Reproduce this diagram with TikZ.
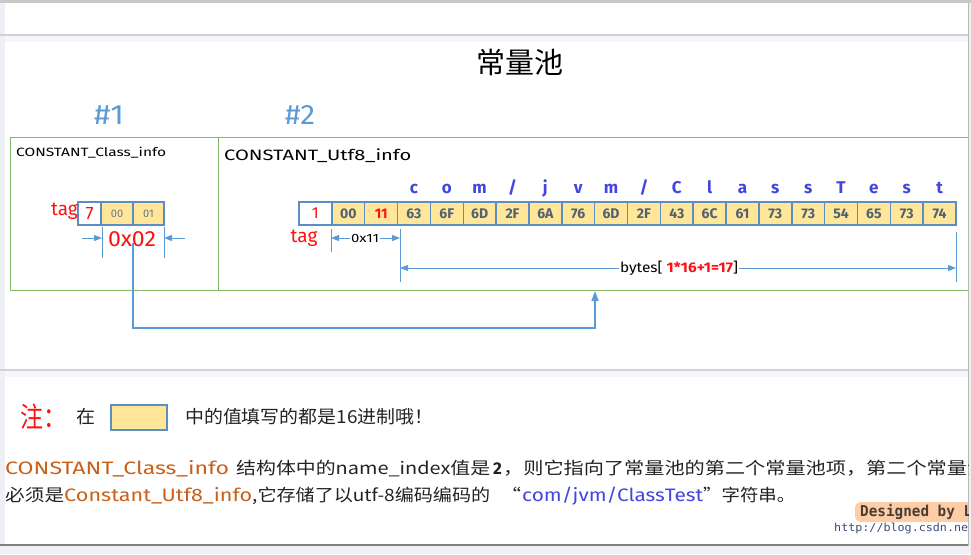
\documentclass[tikz,border=0pt]{standalone}
\usepackage{fontspec}
\usepackage{graphicx}
\setmainfont{Noto Sans CJK SC}
\newfontfamily\lat{Fira Sans}
\newfontfamily\monof{DejaVu Sans Mono}
\usetikzlibrary{arrows.meta}
\definecolor{cellb}{HTML}{5B8EC2}
\definecolor{cellf}{HTML}{FFE699}
\definecolor{grn}{HTML}{82B866}
\definecolor{arrb}{HTML}{5B9BD5}
\definecolor{org}{HTML}{C8601A}
\definecolor{lblue}{HTML}{4545DD}
\definecolor{tred}{HTML}{FF1010}
\definecolor{celltxt}{HTML}{4F6172}
\definecolor{ink}{HTML}{222222}
\definecolor{glow}{HTML}{FCCDA6}
\definecolor{dby}{HTML}{4A3C30}
\definecolor{url}{HTML}{3A4A7A}
\definecolor{hashb}{HTML}{5B9BD5}
\definecolor{fr1}{HTML}{C8C8C8}
\definecolor{fr2}{HTML}{EEF0F5}
\definecolor{fr3}{HTML}{D2D2D2}
\definecolor{fr4}{HTML}{F4F6FB}
\definecolor{fr5}{HTML}{7F7F7F}
\definecolor{fr6}{HTML}{B8B8B8}
\definecolor{fr7}{HTML}{F0F0F0}
\newcommand\fitw[2]{\resizebox{#1}{\height}{#2}}
\newcommand\fs[1]{\fontsize{#1}{#1}\selectfont}
\begin{document}
\begin{tikzpicture}[x=1pt,y=-1pt,
  cell/.style={draw=cellb,line width=1.5pt,fill=cellf,inner sep=0pt,minimum height=23pt,font=\lat\bfseries\fs{14},text=celltxt},
  txt/.style={inner sep=0pt,anchor=base west},
  ar/.style={draw=arrb,line width=1pt},
  tipr/.style={-{Triangle[length=8pt,width=6pt]}},
  conn/.style={draw=arrb,line width=1.5pt,-{Triangle[length=10pt,width=7pt]}},
  gbox/.style={draw=grn,line width=1.2pt,inner sep=0pt},
]
\useasboundingbox (0,0) rectangle (971,554);
% page frame
\fill[fr1] (0,0) rectangle (971,3);
\fill[fr2] (0,3) rectangle (5,554);
\fill[fr3] (0,34) rectangle (968,36);
\fill[fr4] (5,36) rectangle (968,42);
\fill[fr3] (0,369) rectangle (968,371);
\fill[fr4] (5,371) rectangle (968,377);
\fill[fr2] (0,546) rectangle (971,554);
\fill[fr5] (0,544) rectangle (971,546);
\fill[fr7] (969,3) rectangle (971,546);
\draw[fr6,line width=1.5pt] (968.5,3) -- (968.5,546);

\begin{scope}
\clip (0,0) rectangle (968,554);
% title
\node[inner sep=0pt] (title) at (520,62) {\fs{29}常量池};
\node[inner sep=0pt,text=hashb] (h1) at (109,115) {\fitw{30pt}{\lat\fs{28}\#1}};
\node[inner sep=0pt,text=hashb] (h2) at (300,115) {\fitw{30pt}{\lat\fs{28}\#2}};

% green boxes
\node[gbox,minimum width=208pt,minimum height=153pt,anchor=north west] (box1) at (10,137) {};
\node[gbox,minimum width=757pt,minimum height=153pt,anchor=north west] (box2) at (218,137) {};
\node[txt] (n1) at (16,156) {\fitw{150pt}{\lat\fs{12}CONSTANT\_Class\_info}};
\node[txt] (n2) at (224,160) {\fitw{187pt}{\lat\fs{15}CONSTANT\_Utf8\_info}};

% left cells
\node[cell,fill=white,minimum width=23pt,font=\lat\fs{18},text=tred] (c7) at (89.5,213.5) {7};
\node[cell,minimum width=32pt,font=\lat\fs{11},text=celltxt!85] (c00) at (117,213.5) {00};
\node[cell,minimum width=31pt,font=\lat\fs{11},text=celltxt!85] (c01) at (148.5,213.5) {01};
\node[inner sep=0pt,anchor=east,text=tred] (tag1) at (78,211) {\lat\fs{19}tag};
\coordinate (v1t) at (102,227); \coordinate (v1b) at (102,258);
\coordinate (v2t) at (164,227); \coordinate (v2b) at (164,258);
\draw[ar] (v1t) -- (v1b);
\draw[ar] (v2t) -- (v2b);
\coordinate (a1) at (82,238); \coordinate (a2) at (185,238);
\draw[ar,tipr] (a1) -- (a1 -| v1t);
\draw[ar,tipr] (a2) -- (a2 -| v2t);
\coordinate (c0) at (133,243);
\coordinate (cb) at (595,328);
\coordinate (ct) at (595,291);
\draw[conn] (c0) |- (cb) -- (ct);
\node[inner sep=0pt,text=tred] (hex1) at (132,239) {\fitw{48pt}{\lat\fs{22}0x02}};

% right cells
\node[cell,fill=white,minimum width=32.85pt,font=\lat\fs{16},text=tred] (u0) at ({299+32.85*0.5},213.5) {1};
\node[cell,minimum width=32.85pt] (u1) at ({299+32.85*1.5},213.5) {00};
\node[cell,minimum width=32.85pt,text=tred] (u2) at ({299+32.85*2.5},213.5) {11};
\foreach \t [count=\i from 3] in {63,6F,6D,2F,6A,76,6D,2F,43,6C,61,73,73,54,65,73,74}
  \node[cell,minimum width=32.85pt] (u\i) at ({299+32.85*(\i+0.5)},213.5) {\t};
\foreach \l [count=\i from 3] in {c,o,m,/,j,v,m,/,C,l,a,s,s,T,e,s,t}
  \node[inner sep=0pt,anchor=base,text=lblue] (l\i) at ({299+32.85*(\i+0.5)},193) {\lat\bfseries\fs{17}\l};
\node[inner sep=0pt,anchor=center,text=tred] (tag2) at (304,238) {\lat\fs{19}tag};
% 0x11 measure
\coordinate (w1t) at (331,229); \coordinate (w1b) at (331,252);
\coordinate (w2t) at (400,229); \coordinate (w2b) at (400,282);
\coordinate (w3t) at (956,232); \coordinate (w3b) at (956,282);
\draw[ar] (w1t) -- (w1b);
\draw[ar] (w2t) -- (w2b);
\draw[ar] (w3t) -- (w3b);
\node[inner sep=1pt,fill=white] (m11) at (365,238) {\fitw{28pt}{\lat\fs{12}0x11}};
\draw[ar,tipr] (m11.west) -- (m11.west -| w1t);
\draw[ar,tipr] (m11.east) -- (m11.east -| w2t);
\node[inner sep=1pt,fill=white] (bytes) at (679,268) {\fitw{118pt}{\lat\fs{14}bytes[ \textcolor{tred}{\bfseries 1*16+1=17}]}};
\draw[ar,tipr] (bytes.west) -- (bytes.west -| w2t);
\draw[ar,tipr] (bytes.east) -- (bytes.east -| w3t);

% note
\node[txt,text=tred] (zhu) at (20,427) {\fitw{46pt}{\fs{28}注：}};
\node[txt,text=ink] (zai) at (76,423) {\fitw{19pt}{\fs{18}在}};
\node[draw=cellb,line width=1.2pt,fill=cellf,minimum width=56pt,minimum height=25pt,inner sep=0pt] (sample) at (139,417.5) {};
\node[txt,text=ink] (note) at (185,423) {\fitw{248pt}{\fs{18}中的值填写的都是16进制哦！}};

% paragraph
\node[txt,text=org] (p1a) at (5,474) {\fitw{224pt}{\lat\fs{18}CONSTANT\_Class\_info}};
\node[txt,text=ink] (p1b) at (236,474) {\fitw{254pt}{\fs{17}结构体中的name\_index值是}};
\node[txt,text=ink] (p1c) at (493,474) {\lat\bfseries\fs{17}2};
\node[txt,text=ink] (p1d) at (503,474) {\fitw{484pt}{\fs{17}，则它指向了常量池的第二个常量池项，第二个常量池}};
\node[txt,text=ink] (p2a) at (5,501) {\fitw{59pt}{\fs{17}必须是}};
\node[txt,text=org] (p2b) at (64,501) {\fitw{188pt}{\lat\fs{18}Constant\_Utf8\_info}};
\node[txt,text=ink] (p2c) at (252,501) {\fitw{238pt}{\fs{17},它存储了以utf-8编码编码的}};
\node[txt,text=ink] (p2d) at (501,501) {\fitw{20pt}{\fs{17}“}};
\node[txt,text=lblue] (p2e) at (522,501) {\fitw{181pt}{\lat\fs{18}com/jvm/ClassTest}};
\node[txt,text=ink] (p2f) at (703,501) {\fitw{92pt}{\fs{17}”字符串。}};

% signature
\fill[glow,rounded corners=6pt] (855,502) rectangle (980,522);
\node[txt,text=dby] (sig) at (860,516) {\fitw{112pt}{\monof\bfseries\fs{15}Designed by L}};
\node[txt,text=url] (urlt) at (834,531) {\fitw{134pt}{\monof\fs{11}http://blog.csdn.ne}};
\end{scope}
\end{tikzpicture}
\end{document}
